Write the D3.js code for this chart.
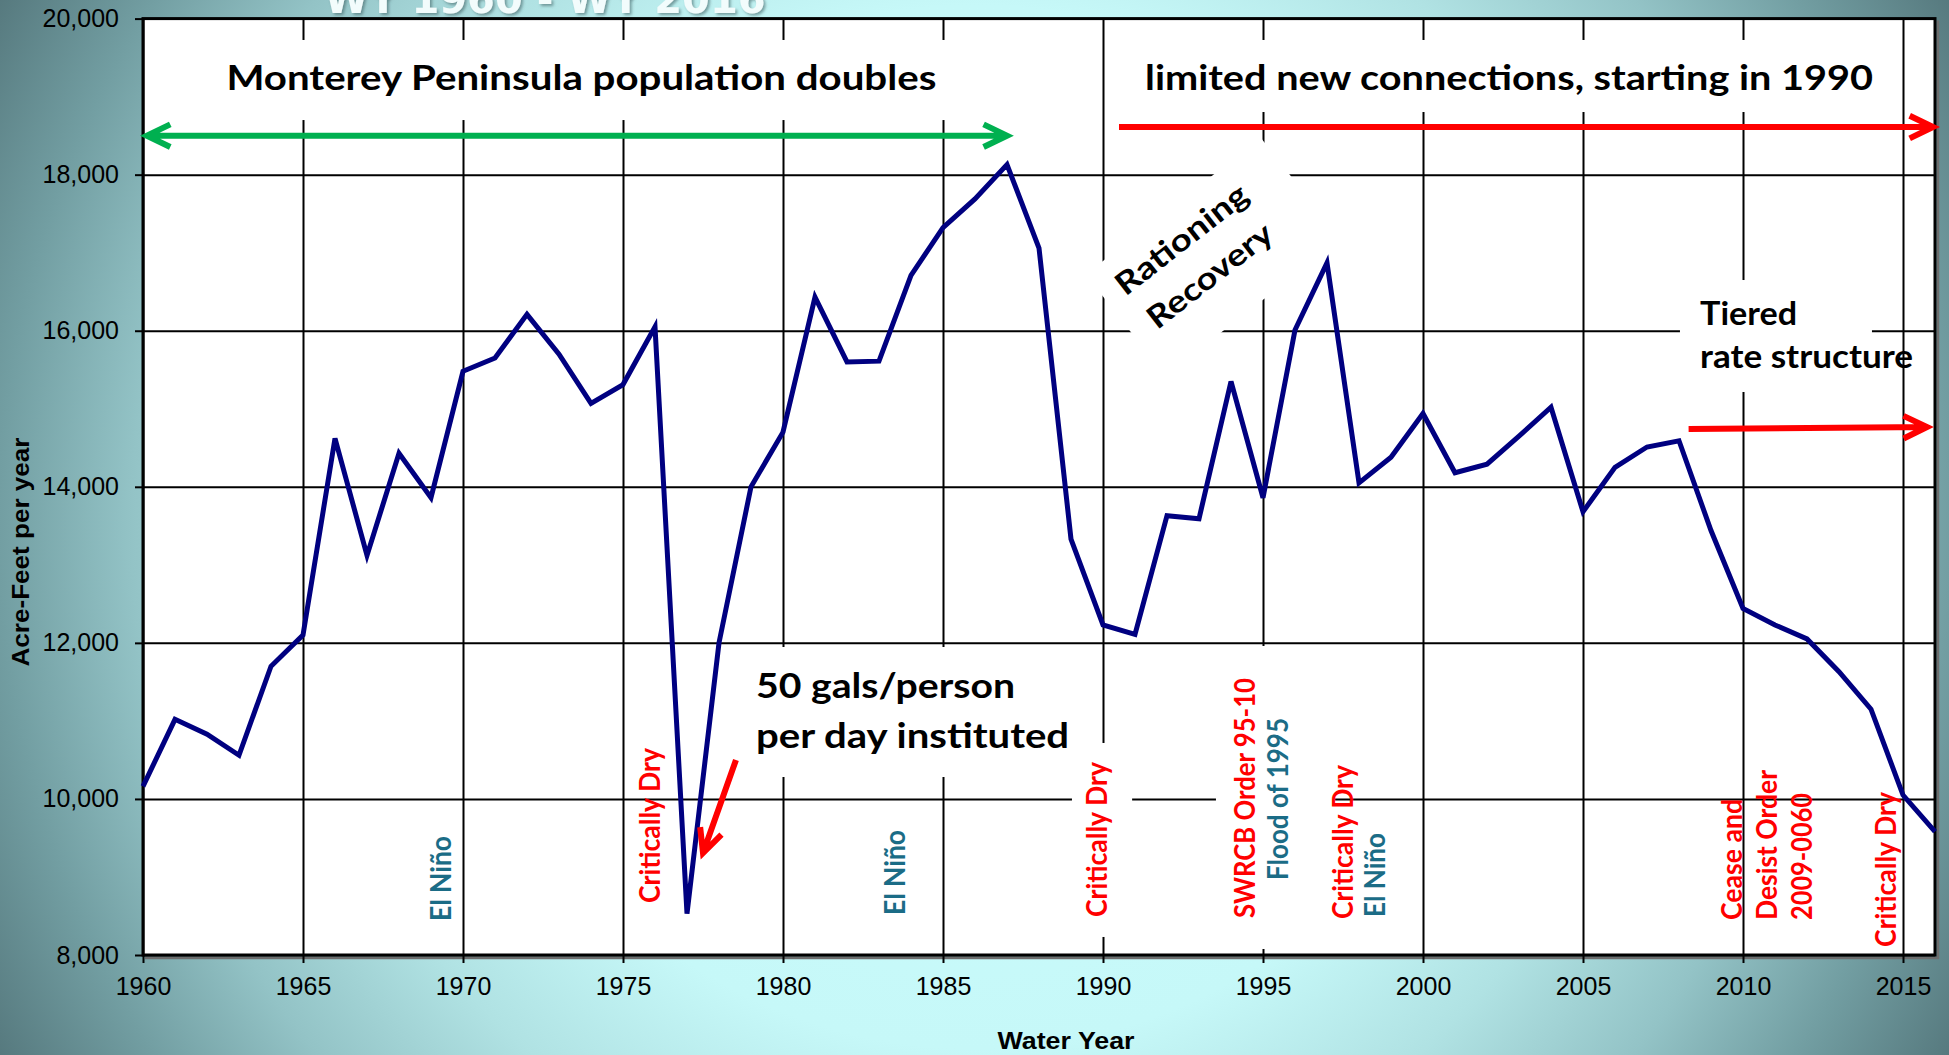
<!DOCTYPE html>
<html><head><meta charset="utf-8">
<script src="https://cdn.jsdelivr.net/npm/d3@7"></script>
<style>html,body{margin:0;padding:0;overflow:hidden;background:#5f8a8e}</style>
</head><body><svg id="c" width="1949" height="1055"></svg>
<script>
// ---------- data ----------
const titleText = "WY 1960 - WY 2016";
const xLabel = "Water Year";
const yLabel = "Acre-Feet per year";
const years = [1960,1961,1962,1963,1964,1965,1966,1967,1968,1969,
               1970,1971,1972,1973,1974,1975,1976,1977,1978,1979,
               1980,1981,1982,1983,1984,1985,1986,1987,1988,1989,
               1990,1991,1992,1993,1994,1995,1996,1997,1998,1999,
               2000,2001,2002,2003,2004,2005,2006,2007,2008,2009,
               2010,2011,2012,2013,2014,2015,2016];
const production = [10160,11020,10830,10560,11700,12100,14620,13120,14430,13860,
                    15480,15650,16210,15700,15070,15310,16050,8530,12000,14000,
                    14700,16430,15600,15610,16710,17320,17690,18130,17060,13330,
                    12230,12110,13630,13590,15350,13860,16010,16870,14050,14380,
                    14940,14180,14290,14650,15020,13680,14250,14510,14590,13440,
                    12440,12230,12050,11630,11150,10050,9580];
const xTicks = [1960,1965,1970,1975,1980,1985,1990,1995,2000,2005,2010,2015];
const yTicks = [8000,10000,12000,14000,16000,18000,20000];

// horizontal bold notes: lines, x (year), baseline values, anchor
const boldNotes = [
  {lines:["Monterey Peninsula population doubles"], year:1973.7, values:[19085], anchor:"middle", lens:[710], size:34},
  {lines:["limited new connections, starting in 1990"], year:2002.69, values:[19085], anchor:"middle", lens:[728], size:34},
  {lines:["Tiered","rate structure"], year:2008.66, values:[16073,15522], anchor:"start", lens:[97,213], size:32},
  {lines:["50 gals/person","per day instituted"], year:1979.16, values:[11293,10653], anchor:"start", lens:[259,313], size:35}
];
// vertical event labels: year = baseline position, value = start of text
const eventLabels = [
  {text:"El Niño", year:1969.63, value:8436, kind:"wet", len:85},
  {text:"Critically Dry", year:1976.16, value:8666, kind:"dry", len:155},
  {text:"El Niño", year:1983.81, value:8513, kind:"wet", len:85},
  {text:"Critically Dry", year:1990.12, value:8487, kind:"dry", len:155},
  {text:"SWRCB Order 95-10", year:1994.75, value:8474, kind:"dry", len:240},
  {text:"Flood of 1995", year:1995.78, value:8961, kind:"wet", len:162},
  {text:"Critically Dry", year:1997.81, value:8461, kind:"dry", len:154},
  {text:"El Niño", year:1998.81, value:8487, kind:"wet", len:84},
  {text:"Cease and", year:2009.97, value:8449, kind:"dry", len:121},
  {text:"Desist Order", year:2011.06, value:8449, kind:"dry", len:150},
  {text:"2009-0060", year:2012.16, value:8449, kind:"dry", len:127},
  {text:"Critically Dry", year:2014.78, value:8103, kind:"dry", len:155}
];
// arrows (in data units)
const arrows = [
  {x1:1960.12, v1:18500, x2:1987.0, v2:18500, kind:"green", heads:2},
  {x1:1990.5, v1:18610, x2:2015.94, v2:18610, kind:"red", heads:1},
  {x1:2008.3, v1:14741, x2:2015.75, v2:14766, kind:"red", heads:1},
  {x1:1978.53, v1:10499, x2:1977.5, v2:9307, kind:"red", heads:1}
];
// white label backgrounds (data units)
const masks = [
  {x0:1960.22, x1:1989.44, v0:18700, v1:19726},
  {x0:1990.28, x1:2014.91, v0:18803, v1:19726},
  {x0:2008.03, x1:2014.03, v0:15215, v1:16650},
  {x0:1978.81, x1:1989.13, v0:10281, v1:11947},
  {x0:1989.03, x1:1990.91, v0:8231, v1:10717},
  {x0:1993.53, x1:1997.25, v0:8077, v1:11960}
];
const rotatedNote = {lines:["Rationing","Recovery"], year:1992.91, value:16932, lens:[159,150]};

// ---------- chart ----------
const W=1949, H=1055;
const M={l:143, r:1935, t:18.6, b:955};
const svg = d3.select("#c");
const x = d3.scaleLinear().domain([1960,2016]).range([M.l,M.r]);
const y = d3.scaleLinear().domain([8000,20000]).range([M.b,M.t]);
const colors = {dry:"#ff0000", wet:"#1b6c86", red:"#ff0000", green:"#00b050", line:"#000080"};

const defs = svg.append("defs");
const grad = defs.append("radialGradient").attr("id","bg").attr("gradientUnits","userSpaceOnUse")
  .attr("cx",975).attr("cy",527).attr("r",1110);
[[0,"#ccffff"],[0.47,"#c6f8f8"],[0.62,"#b0e2e3"],[0.76,"#93c3c6"],[0.88,"#729ea2"],[1,"#56797e"]]
  .forEach(([o,c])=>grad.append("stop").attr("offset",o).attr("stop-color",c));
const sh = defs.append("filter").attr("id","sh").attr("x","-10%").attr("y","-50%").attr("width","120%").attr("height","200%");
sh.append("feDropShadow").attr("dx",2).attr("dy",2).attr("stdDeviation",1.5).attr("flood-color","#3f6266").attr("flood-opacity",0.6);

svg.append("rect").attr("width",W).attr("height",H).attr("fill","url(#bg)");

// title (partly outside the top, as in the original slide)
svg.append("text").attr("x",545).attr("y",13).attr("text-anchor","middle")
  .attr("font-family","DejaVu Sans").attr("font-weight","bold").attr("font-size",40)
  .attr("fill","#f2fcfc").attr("filter","url(#sh)").text(titleText);

// plot background
svg.append("rect").attr("x",M.l).attr("y",M.t).attr("width",M.r-M.l).attr("height",M.b-M.t).attr("fill","#fff");

// gridlines
const gx = svg.append("g").attr("transform",`translate(0,${M.b})`)
  .call(d3.axisBottom(x).tickValues(xTicks).tickSize(-(M.b-M.t)).tickFormat(""));
gx.select(".domain").remove();
gx.selectAll("line").attr("stroke","#000").attr("stroke-width",2);
const gy = svg.append("g").attr("transform",`translate(${M.l},0)`)
  .call(d3.axisLeft(y).tickValues(yTicks).tickSize(-(M.r-M.l)).tickFormat(""));
gy.select(".domain").remove();
gy.selectAll("line").attr("stroke","#000").attr("stroke-width",2);

// white label backgrounds
svg.append("g").selectAll("rect").data(masks).join("rect")
  .attr("x",d=>x(d.x0)).attr("y",d=>y(d.v1))
  .attr("width",d=>x(d.x1)-x(d.x0)).attr("height",d=>y(d.v0)-y(d.v1)).attr("fill","#fff");
const rg = svg.append("g").attr("transform",`translate(${x(rotatedNote.year)},${y(rotatedNote.value)}) rotate(-38)`);
rg.append("rect").attr("x",-97).attr("y",-55).attr("width",222).attr("height",129).attr("fill","#fff");

// shadow of frame
svg.append("path").attr("d",`M${M.l+2},${M.b+3}H${M.r+3}V${M.t+2}`).attr("fill","none")
  .attr("stroke","#6d6d6d").attr("stroke-width",2.5);
// frame
svg.append("rect").attr("x",M.l).attr("y",M.t).attr("width",M.r-M.l).attr("height",M.b-M.t)
  .attr("fill","none").attr("stroke","#000").attr("stroke-width",3);

// axes ticks & labels
const ax = svg.append("g").attr("transform",`translate(0,${M.b})`)
  .call(d3.axisBottom(x).tickValues(xTicks).tickSize(8).tickPadding(14).tickFormat(d=>String(d)));
ax.select(".domain").remove();
ax.selectAll("line").attr("stroke","#000").attr("stroke-width",2);
ax.selectAll("text").attr("font-family","Liberation Sans, Arial").attr("font-size",25).attr("fill","#000");
const ay = svg.append("g").attr("transform",`translate(${M.l},0)`)
  .call(d3.axisLeft(y).tickValues(yTicks).tickSize(8).tickPadding(16).tickFormat(d3.format(",")));
ay.select(".domain").remove();
ay.selectAll("line").attr("stroke","#000").attr("stroke-width",2);
ay.selectAll("text").attr("font-family","Liberation Sans, Arial").attr("font-size",25).attr("fill","#000");

svg.append("text").attr("x",1066).attr("y",1049).attr("text-anchor","middle")
  .attr("font-family","Liberation Sans, Arial").attr("font-weight","bold").attr("font-size",24)
  .attr("textLength",137).attr("lengthAdjust","spacingAndGlyphs").text(xLabel);
svg.append("text").attr("transform","translate(29,552) rotate(-90)").attr("text-anchor","middle")
  .attr("font-family","Liberation Sans, Arial").attr("font-weight","bold").attr("font-size",24)
  .attr("textLength",229).attr("lengthAdjust","spacingAndGlyphs").text(yLabel);

// data line
svg.append("path").datum(years.map((yr,i)=>[yr,production[i]]))
  .attr("d",d3.line().x(d=>x(d[0])).y(d=>y(d[1])))
  .attr("fill","none").attr("stroke",colors.line).attr("stroke-width",5).attr("stroke-linejoin","miter");

// vertical event labels
svg.append("g").selectAll("text").data(eventLabels).join("text")
  .attr("transform",d=>`translate(${x(d.year)},${y(d.value)}) rotate(-90)`)
  .attr("font-family","Lato").attr("font-weight","bold").attr("font-size",28)
  .attr("fill",d=>colors[d.kind]).attr("textLength",d=>d.len).attr("lengthAdjust","spacingAndGlyphs")
  .text(d=>d.text);

// bold notes
boldNotes.forEach(n=>{
  n.lines.forEach((ln,i)=>{
    svg.append("text").attr("x",x(n.year)).attr("y",y(n.values[i])).attr("text-anchor",n.anchor)
      .attr("font-family","Lato").attr("font-weight","bold").attr("font-size",n.size).attr("fill","#000")
      .attr("textLength",n.lens[i]).attr("lengthAdjust","spacingAndGlyphs").text(ln);
  });
});
rotatedNote.lines.forEach((ln,i)=>{
  rg.append("text").attr("x",0).attr("y",i===0?-13:33).attr("text-anchor","middle")
    .attr("font-family","Lato").attr("font-weight","bold").attr("font-size",31).attr("fill","#000")
    .attr("textLength",rotatedNote.lens[i]).attr("lengthAdjust","spacingAndGlyphs").text(ln);
});

// arrows
function head(px,py,ang){
  const L=26, a=0.45;
  const p1=[px-L*Math.cos(ang-a), py-L*Math.sin(ang-a)];
  const p2=[px-L*Math.cos(ang+a), py-L*Math.sin(ang+a)];
  return `M${p1[0]},${p1[1]}L${px},${py}L${p2[0]},${p2[1]}`;
}
arrows.forEach(a=>{
  const X1=x(a.x1), Y1=y(a.v1), X2=x(a.x2), Y2=y(a.v2);
  const ang=Math.atan2(Y2-Y1,X2-X1);
  let d=`M${X1},${Y1}L${X2},${Y2}`+head(X2,Y2,ang);
  if(a.heads===2) d+=head(X1,Y1,ang+Math.PI);
  svg.append("path").attr("d",d).attr("fill","none").attr("stroke",colors[a.kind])
    .attr("stroke-width",6).attr("stroke-linejoin","miter").attr("stroke-linecap","butt");
});
</script></body></html>
